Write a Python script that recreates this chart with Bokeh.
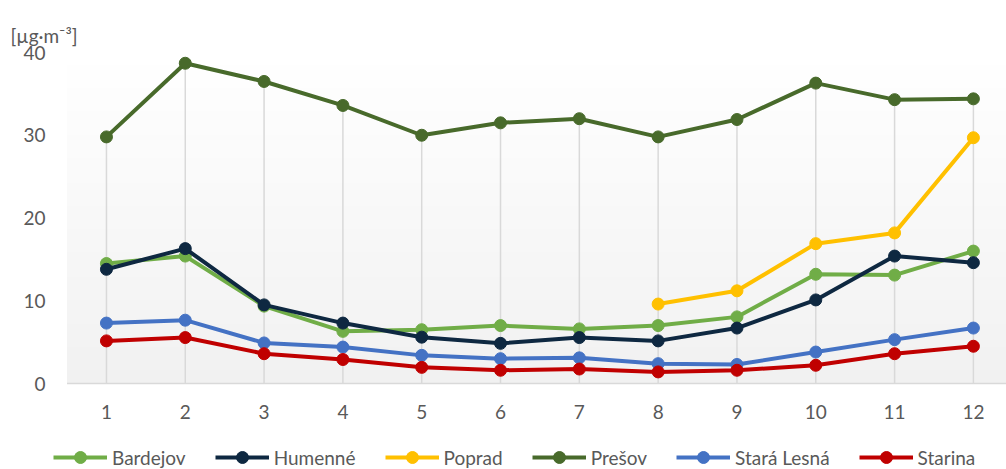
import numpy as np
from bokeh.plotting import figure
from bokeh.models import Legend, LegendItem, FixedTicker, Range1d
from bokeh.core.properties import value
from bokeh.embed import file_html
from bokeh.resources import INLINE

months = [1, 2, 3, 4, 5, 6, 7, 8, 9, 10, 11, 12]
month_labels = [str(m) for m in months]
nan = float("nan")
bardejov = [14.5, 15.4, 9.35, 6.3, 6.5, 7.0, 6.6, 7.0, 8.05, 13.2, 13.1, 16.0]
humenne = [13.8, 16.3, 9.5, 7.3, 5.6, 4.85, 5.55, 5.15, 6.7, 10.1, 15.4, 14.6]
poprad = [nan, nan, nan, nan, nan, nan, nan, 9.6, 11.2, 16.9, 18.2, 29.7]
presov = [29.8, 38.7, 36.5, 33.6, 30.0, 31.5, 32.0, 29.8, 31.9, 36.3, 34.3, 34.4]
stara_lesna = [7.3, 7.65, 4.9, 4.4, 3.4, 3.0, 3.1, 2.4, 2.3, 3.8, 5.3, 6.7]
starina = [5.15, 5.55, 3.6, 2.9, 1.95, 1.6, 1.75, 1.4, 1.6, 2.2, 3.6, 4.5]

series_names = ["Bardejov", "Humenné", "Poprad", "Prešov", "Stará Lesná", "Starina"]
series_values = [bardejov, humenne, poprad, presov, stara_lesna, starina]
series_colors = ["#70ad47", "#0e2841", "#ffc000", "#486a2b", "#4472c4", "#c00000"]
y_ticks = [0, 10, 20, 30, 40]
unit_text = "[µg·m⁻³]"

FONT = "Lato"
TXT = "#595959"

# geometry: plot area spans 0..40 over 331 px; frame continues below for labels/legend
W, H = 1006, 469
TOP, LEFT = 52, 50
ppu_y = 331 / 40.0
y_start = -(H - TOP - 331) / ppu_y
x0, x1 = 0.29, 12.42
area_x0 = 0.5

p = figure(width=W, height=H, output_backend="svg", toolbar_location=None,
           x_range=Range1d(x0, x1), y_range=Range1d(y_start, 40),
           x_axis_location=None,
           min_border_left=LEFT, min_border_right=0, min_border_top=TOP,
           min_border_bottom=0, title=unit_text)
p.outline_line_color = None
p.background_fill_color = "white"
p.border_fill_color = "white"
p.xgrid.grid_line_color = None
p.ygrid.grid_line_color = None

p.title.align = "left"
p.title.offset = -40
p.title.vertical_align = "middle"
p.title.text_font = FONT
p.title.text_font_size = "19px"
p.title.text_font_style = "normal"
p.title.text_color = TXT

# gradient background of the plot area
N = 256
img = np.empty((N, 1), dtype=np.uint32)
view = img.view(dtype=np.uint8).reshape((N, 1, 4))
for i in range(N):
    t = i / (N - 1)
    g = int(round(241 + (255 - 241) * t))
    view[i, 0, :] = [g, g, g, 255]
p.image_rgba(image=[img], x=area_x0, y=0, dw=x1 - area_x0, dh=40)

# category axis line
p.segment(x0=[area_x0], y0=[0], x1=[x1], y1=[0], line_color="#d9d9d9", line_width=1.5)

# drop lines
top_vals = [max(v for v in col if v == v) for col in zip(*series_values)]
p.segment(x0=months, y0=[0] * 12, x1=months, y1=top_vals,
          line_color="#d9d9d9", line_width=1.5)

items = []
for name, vals, col in zip(series_names, series_values, series_colors):
    r1 = p.line(months, vals, line_color=col, line_width=4)
    r2 = p.scatter(months, vals, size=12, fill_color=col, line_color=col)
    items.append(LegendItem(label=name, renderers=[r1, r2]))

# category labels under the axis
p.text(x=months, y=[-28 / ppu_y] * 12, text=month_labels,
       text_align="center", text_baseline="middle",
       text_font=value(FONT), text_font_size="19px", text_color=TXT)

legend = Legend(items=items, orientation="horizontal", location=(3, -3),
                glyph_width=54, glyph_height=30, label_standoff=5, spacing=29,
                padding=0, margin=0, border_line_color=None,
                background_fill_alpha=0,
                label_text_font=FONT, label_text_font_size="19px",
                label_text_color=TXT)
p.add_layout(legend, "center")

ya = p.yaxis[0]
ya.ticker = FixedTicker(ticks=y_ticks)
ya.axis_line_color = None
ya.major_tick_line_color = None
ya.minor_tick_line_color = None
ya.major_tick_out = 0
ya.major_tick_in = 0
ya.major_label_standoff = 5
ya.major_label_text_font = FONT
ya.major_label_text_font_size = "19px"
ya.major_label_text_color = TXT

open("out.html", "w").write(file_html(p, INLINE))
